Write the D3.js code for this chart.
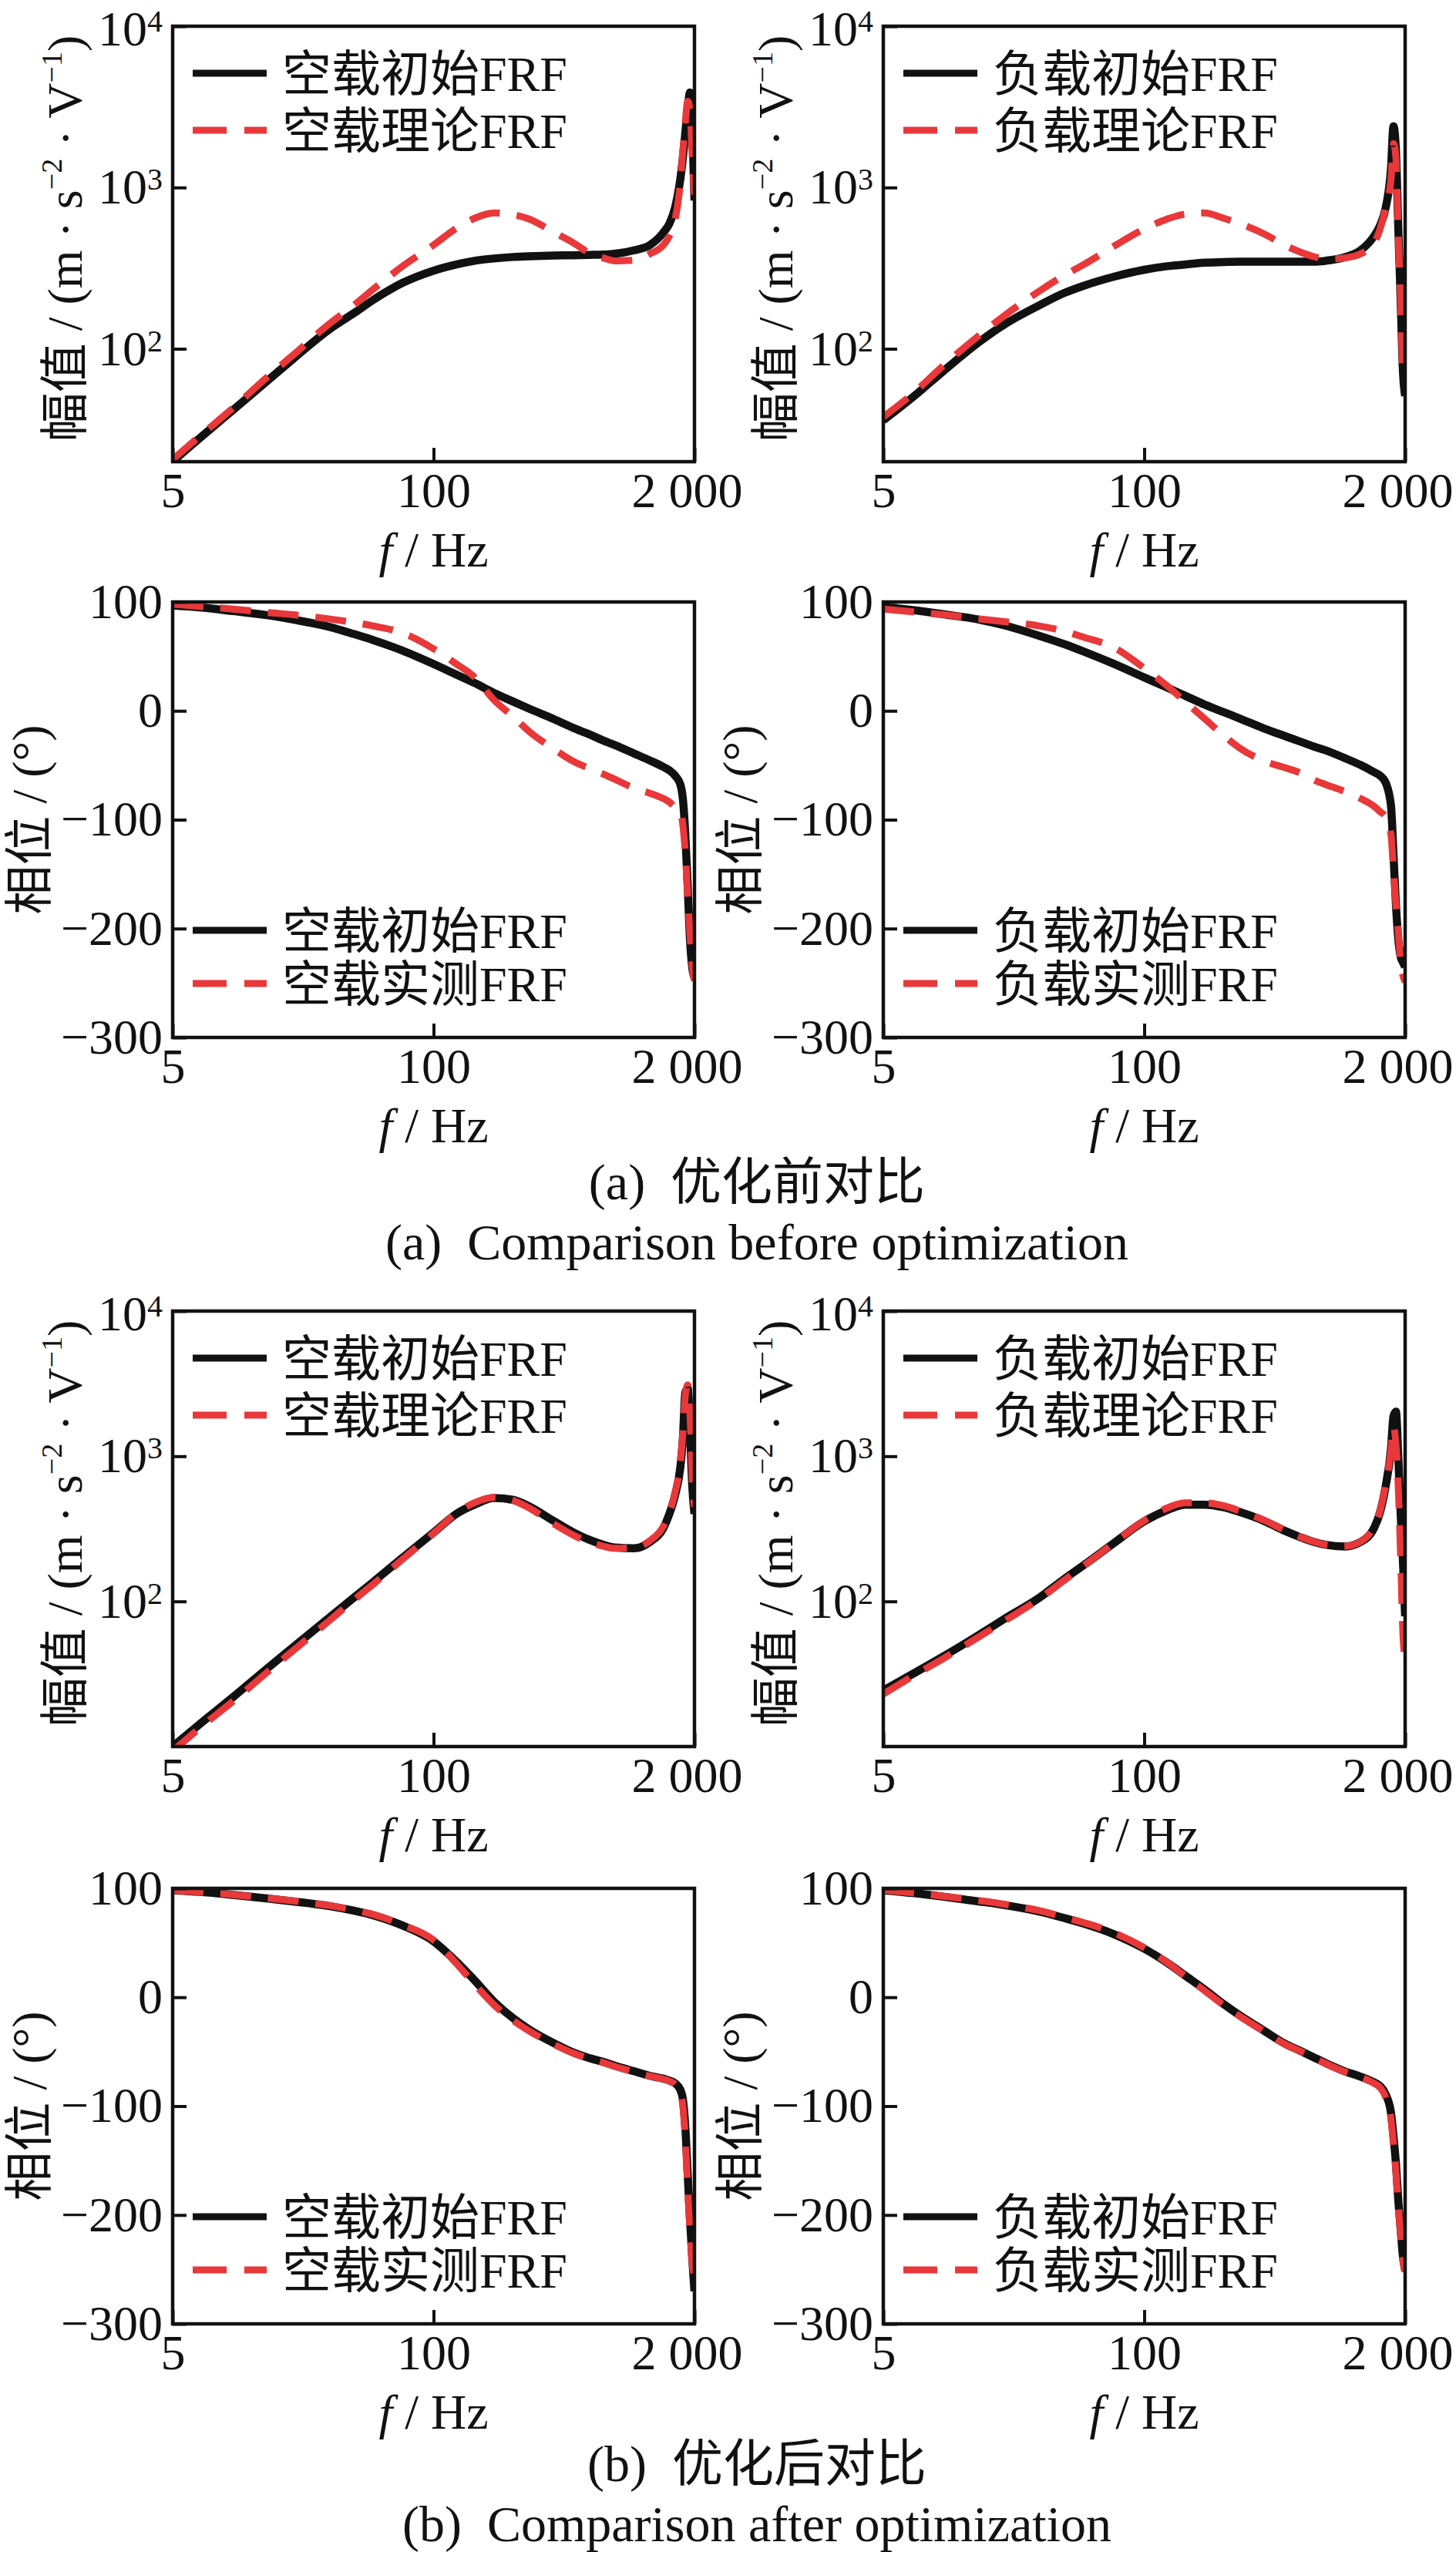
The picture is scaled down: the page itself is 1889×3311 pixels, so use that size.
<!DOCTYPE html>
<html>
<head>
<meta charset="utf-8">
<script src="https://cdn.jsdelivr.net/npm/d3@7"></script>
<style>
  body { margin: 0; background: #fff; }
  text { white-space: pre; }
</style>
</head>
<body>
<svg id="fig" width="1889" height="3311"></svg>
<script>
// ---- data ----
const FREQ = [5, 7, 10, 15, 20, 30, 40, 50, 70, 100, 130, 160, 200, 250, 300, 400, 500, 600, 700, 800,
              1000, 1200, 1400, 1500, 1600, 1700, 1750, 1800, 1850, 1900, 1950, 2000];

// (a) before optimization - magnitude
const MAG_A_EMPTY_INIT   = [20, 28.7, 41.7, 64, 86.8, 131, 166, 201, 256, 305, 333, 351, 363, 371, 375, 379, 380, 382, 384, 388,
                            408, 440, 526, 597, 750, 1125, 1520, 2167, 3090, 3880, 2520, 830];
const MAG_A_EMPTY_THEORY = [20.6, 29.5, 43, 67.8, 91.8, 142, 186, 234, 325, 440, 559, 644, 695, 678, 637, 526, 452, 392, 366, 351,
                            354, 388, 440, 500, 628, 1069, 1683, 2520, 3420, 3090, 1520, 900];
const MAG_A_LOAD_INIT    = [36, 50, 73, 110, 141, 186, 222, 246, 279, 309, 325, 333, 342, 345, 347, 347, 347, 347, 347, 351,
                            369, 408, 500, 582, 750, 1306, 2400, 1680, 553, 201, 73, 51];
const MAG_A_LOAD_THEORY  = [37.8, 52.6, 79, 121, 160, 228, 286, 333, 430, 553, 637, 684, 695, 644, 597, 513, 440, 398, 373, 360,
                            366, 388, 452, 553, 750, 1120, 1870, 1520, 500, 201, 73, 70];

// (a) before optimization - phase
const PH_A_EMPTY_INIT = [96.8, 94.8, 91.6, 87.7, 83.8, 77.3, 70.6, 65, 55.3, 43, 33.3, 25.6, 16.5, 8.4, 1.9, -7.8, -15.9, -21.7, -27.2, -31.4,
                         -39.2, -45.6, -51.5, -54.7, -59.5, -67.6, -80.6, -113, -161, -210, -236, -245];
const PH_A_EMPTY_MEAS = [98, 95.8, 93.5, 90.3, 88.3, 84.5, 81.2, 78, 71.5, 57, 43, 31, 10, -5.5, -19, -35.3, -46.6, -53, -58, -62.8,
                         -71, -75.7, -80.6, -83.8, -88.7, -92, -105, -130, -170, -205, -235, -248];
const PH_A_LOAD_INIT  = [95.2, 92.6, 88.7, 83.8, 78.6, 68.9, 61.2, 54.4, 43.4, 30.7, 21.4, 13.9, 5.8, -1.3, -7.1, -16.5, -23, -28.2, -32.7, -36.2,
                         -43.4, -49.8, -56.3, -59.5, -66, -87, -132, -178, -210, -226, -231, -235];
const PH_A_LOAD_MEAS  = [93.5, 90.9, 88.3, 84.5, 81.9, 78, 73.1, 67.6, 58.6, 39.2, 23, 8.4, -7.1, -23, -34.3, -46.3, -52.1, -57, -63.4, -67.6,
                         -74.1, -80.6, -87.7, -92.6, -97.4, -113.6, -146, -178, -204, -230, -243, -249];

// (b) after optimization - magnitude
const MAG_B_EMPTY_INIT   = [10, 14.7, 21.9, 35, 48.5, 76.7, 106, 136, 200, 298, 401, 464, 515, 500, 451, 356, 298, 265, 246, 235,
                            232, 257, 320, 401, 538, 837, 1303, 2730, 2940, 1510, 623, 400];
const MAG_B_EMPTY_THEORY = [9.3, 13.8, 20.5, 33, 46, 73, 102, 131, 195, 295, 405, 478, 520, 495, 440, 340, 285, 255, 240, 232,
                            235, 262, 330, 410, 560, 900, 1450, 2600, 3100, 2000, 700, 450];
const MAG_B_LOAD_INIT    = [24.3, 31.6, 41.9, 58.8, 75.5, 106, 143, 178, 250, 356, 425, 464, 464, 444, 412, 356, 307, 277, 257, 246,
                            239, 257, 320, 412, 623, 1125, 1888, 2030, 970, 400, 191, 79];
const MAG_B_LOAD_THEORY  = [23, 30.5, 40.5, 57, 73, 104, 140, 176, 250, 360, 440, 478, 478, 455, 420, 360, 310, 278, 258, 246,
                            240, 258, 330, 420, 640, 1100, 1600, 1200, 600, 200, 60, 40];

// (b) after optimization - phase
const PH_B_EMPTY_INIT = [98.3, 96.6, 94, 90.6, 88, 83.8, 79.5, 75.3, 65.9, 51.4, 32.7, 15.6, -4, -19.4, -29.6, -42.4, -50.9, -56, -59.4, -62.8,
                         -68, -72.2, -74.8, -76.5, -79, -85, -93.5, -119, -162, -204, -240, -270];
const PH_B_EMPTY_MEAS = [98, 96.5, 94.2, 91, 88.5, 84.3, 80.2, 76, 66.5, 52.5, 31, 12, -7, -21.5, -31, -43.5, -51.5, -56.5, -60, -63.5,
                         -68.5, -72.5, -75.2, -77, -80, -88, -100, -130, -175, -215, -245, -255];
const PH_B_LOAD_INIT  = [98.3, 95.7, 92.3, 88, 84.7, 78.7, 72.7, 67.6, 58.2, 44.6, 31.8, 19.9, 7.1, -6.6, -16.8, -31.3, -42.4, -49.2, -55.2, -60.3,
                         -68, -73, -78.2, -81.6, -89.3, -106, -127.6, -153, -187, -213, -238, -251];
const PH_B_LOAD_MEAS  = [98.5, 96, 92.8, 88.8, 85.5, 79.5, 73.5, 68.5, 59.5, 45.5, 32, 19.5, 6, -7.5, -17.5, -31.8, -42.8, -49.5, -55.5, -60.8,
                         -68.5, -73.5, -79, -83, -92, -112, -135, -160, -192, -218, -242, -252];

// axis ticks / labels
const X_TICKS = [5, 100, 2000];
const X_TICK_LABELS = ["5", "100", "2 000"];
const MAG_TICKS = [100, 1000, 10000];
const PH_TICKS = [100, 0, -100, -200, -300];
const MAG_DOMAIN_A = [Math.pow(10, 1.3), 10000];
const MAG_DOMAIN_B = [10, 10000];
const PH_DOMAIN = [-300, 100];

const CAPTIONS = [
  ["(a)  优化前对比", "(a)  Comparison before optimization"],
  ["(b)  优化后对比", "(b)  Comparison after optimization"]
];

// ---- layout ----
const svg = d3.select("#fig");
svg.append("rect").attr("width", 1889).attr("height", 3311).attr("fill", "#fff");

const FONT = "'Liberation Serif','Times New Roman','Noto Sans CJK SC',serif";
const FS = 64;
const RED = "#e8383a";
const COL_X = [224, 1146];
const ROW_Y = [34, 781, 1701, 2450];
const PW = 677, PH = 565;

const x = d3.scaleLog().domain([5, 2000]).range([0, PW]);

const panels = [
  { col: 0, row: 0, kind: "mag", dom: MAG_DOMAIN_A, a: MAG_A_EMPTY_INIT, b: MAG_A_EMPTY_THEORY, leg: ["空载初始FRF", "空载理论FRF"] },
  { col: 1, row: 0, kind: "mag", dom: MAG_DOMAIN_A, a: MAG_A_LOAD_INIT,  b: MAG_A_LOAD_THEORY,  leg: ["负载初始FRF", "负载理论FRF"] },
  { col: 0, row: 1, kind: "ph",  dom: PH_DOMAIN,    a: PH_A_EMPTY_INIT,  b: PH_A_EMPTY_MEAS,    leg: ["空载初始FRF", "空载实测FRF"] },
  { col: 1, row: 1, kind: "ph",  dom: PH_DOMAIN,    a: PH_A_LOAD_INIT,   b: PH_A_LOAD_MEAS,     leg: ["负载初始FRF", "负载实测FRF"] },
  { col: 0, row: 2, kind: "mag", dom: MAG_DOMAIN_B, a: MAG_B_EMPTY_INIT, b: MAG_B_EMPTY_THEORY, leg: ["空载初始FRF", "空载理论FRF"] },
  { col: 1, row: 2, kind: "mag", dom: MAG_DOMAIN_B, a: MAG_B_LOAD_INIT,  b: MAG_B_LOAD_THEORY,  leg: ["负载初始FRF", "负载理论FRF"] },
  { col: 0, row: 3, kind: "ph",  dom: PH_DOMAIN,    a: PH_B_EMPTY_INIT,  b: PH_B_EMPTY_MEAS,    leg: ["空载初始FRF", "空载实测FRF"] },
  { col: 1, row: 3, kind: "ph",  dom: PH_DOMAIN,    a: PH_B_LOAD_INIT,   b: PH_B_LOAD_MEAS,     leg: ["负载初始FRF", "负载实测FRF"] }
];

panels.forEach((p, i) => {
  const g = svg.append("g")
    .attr("transform", `translate(${COL_X[p.col]},${ROW_Y[p.row]})`)
    .attr("font-family", FONT);

  const y = p.kind === "mag"
    ? d3.scaleLog().domain(p.dom).range([PH, 0])
    : d3.scaleLinear().domain(p.dom).range([PH, 0]);

  // clip
  g.append("clipPath").attr("id", "clip" + i)
    .append("rect").attr("width", PW).attr("height", PH);

  // curves
  const line = d3.line()
    .x(d => x(d[0]))
    .y(d => y(d[1]))
    .curve(d3.curveMonotoneX);

  const plot = g.append("g").attr("clip-path", `url(#clip${i})`);
  plot.append("path")
    .attr("d", line(FREQ.map((f, k) => [f, p.a[k]])))
    .attr("fill", "none").attr("stroke", "#111").attr("stroke-width", 10.5)
    .attr("stroke-linejoin", "round");
  plot.append("path")
    .attr("d", line(FREQ.map((f, k) => [f, p.b[k]])))
    .attr("fill", "none").attr("stroke", RED).attr("stroke-width", 9)
    .attr("stroke-dasharray", "40,22");

  // x axis
  const xAxis = g.append("g").attr("transform", `translate(0,${PH})`)
    .call(d3.axisBottom(x).tickValues(X_TICKS)
      .tickFormat((d, k) => X_TICK_LABELS[k])
      .tickSizeInner(-18).tickSizeOuter(0).tickPadding(14));
  xAxis.select(".domain").remove();
  xAxis.attr("font-size", null).attr("font-family", null);
  xAxis.selectAll("line").attr("stroke", "#111").attr("stroke-width", 4);
  xAxis.selectAll("text").attr("font-size", FS).attr("font-family", FONT).attr("fill", "#111")
    .attr("dx", d => d === 2000 ? -10 : 0);

  // y axis
  const yAxisFn = d3.axisLeft(y).tickSizeInner(-18).tickSizeOuter(0).tickPadding(13);
  if (p.kind === "mag") yAxisFn.tickValues(MAG_TICKS);
  else yAxisFn.tickValues(PH_TICKS).tickFormat(d => d < 0 ? "\u2212" + Math.abs(d) : String(d));
  const yAxis = g.append("g").call(yAxisFn);
  yAxis.select(".domain").remove();
  yAxis.attr("font-size", null).attr("font-family", null);
  yAxis.selectAll("line").attr("stroke", "#111").attr("stroke-width", 4);
  yAxis.selectAll("text").attr("font-size", FS).attr("font-family", FONT).attr("fill", "#111");
  if (p.kind === "mag") {
    yAxis.selectAll("text").each(function (d) {
      const t = d3.select(this).text("");
      // the top label sits right at the figure edge: nudge it down a little
      if (d === 10000) t.attr("y", 4);
      t.append("tspan").text("10");
      t.append("tspan").attr("font-size", 40).attr("dy", -18).text(Math.round(Math.log10(d)));
    });
  }

  // frame
  g.append("rect").attr("width", PW).attr("height", PH)
    .attr("fill", "none").attr("stroke", "#111").attr("stroke-width", 4.5);

  // x title
  const xt = g.append("text")
    .attr("x", PW / 2).attr("y", PH + 136)
    .attr("text-anchor", "middle").attr("font-size", FS).attr("fill", "#111");
  xt.append("tspan").attr("font-style", "italic").text("f");
  xt.append("tspan").text(" / Hz");

  // y title
  if (p.kind === "mag") {
    const yt = g.append("text")
      .attr("transform", `translate(-140,${PH / 2 - 7}) rotate(-90)`)
      .attr("dy", "0.35em")
      .attr("text-anchor", "middle").attr("font-size", FS).attr("fill", "#111");
    yt.append("tspan").text("幅值 / (m · s");
    yt.append("tspan").attr("font-size", 38).attr("dy", -26).text("\u22122");
    yt.append("tspan").attr("dy", 26).text(" · V");
    yt.append("tspan").attr("font-size", 38).attr("dy", -26).text("\u22121");
    yt.append("tspan").attr("dy", 26).text(")");
    // keep the title as long as in the reference
    if (yt.node().getComputedTextLength() > 536) {
      yt.attr("textLength", 536).attr("lengthAdjust", "spacingAndGlyphs");
    }
  } else {
    g.append("text")
      .attr("transform", `translate(-186,${PH / 2}) rotate(-90)`)
      .attr("dy", "0.35em")
      .attr("text-anchor", "middle").attr("font-size", FS).attr("fill", "#111")
      .text("相位 / (°)");
  }

  // legend
  const rows = p.kind === "mag" ? [61, 135] : [PH - 139, PH - 70];
  rows.forEach((ry, k) => {
    g.append("line")
      .attr("x1", 26).attr("x2", 122).attr("y1", ry).attr("y2", ry)
      .attr("stroke", k === 0 ? "#111" : RED).attr("stroke-width", 9)
      .attr("stroke-dasharray", k === 0 ? null : "44,23");
    g.append("text")
      .attr("x", 142).attr("y", ry).attr("dy", "0.36em")
      .attr("font-size", FS).attr("fill", "#111")
      .text(p.leg[k]);
  });
});

// captions
const CAP_Y = [[1556, 1634], [3219, 3297]];
CAPTIONS.forEach((c, i) => {
  c.forEach((s, k) => {
    svg.append("text")
      .attr("x", 982).attr("y", CAP_Y[i][k])
      .attr("text-anchor", "middle")
      .attr("font-family", FONT).attr("font-size", 66).attr("fill", "#111")
      .text(s);
  });
});
</script>
</body>
</html>
